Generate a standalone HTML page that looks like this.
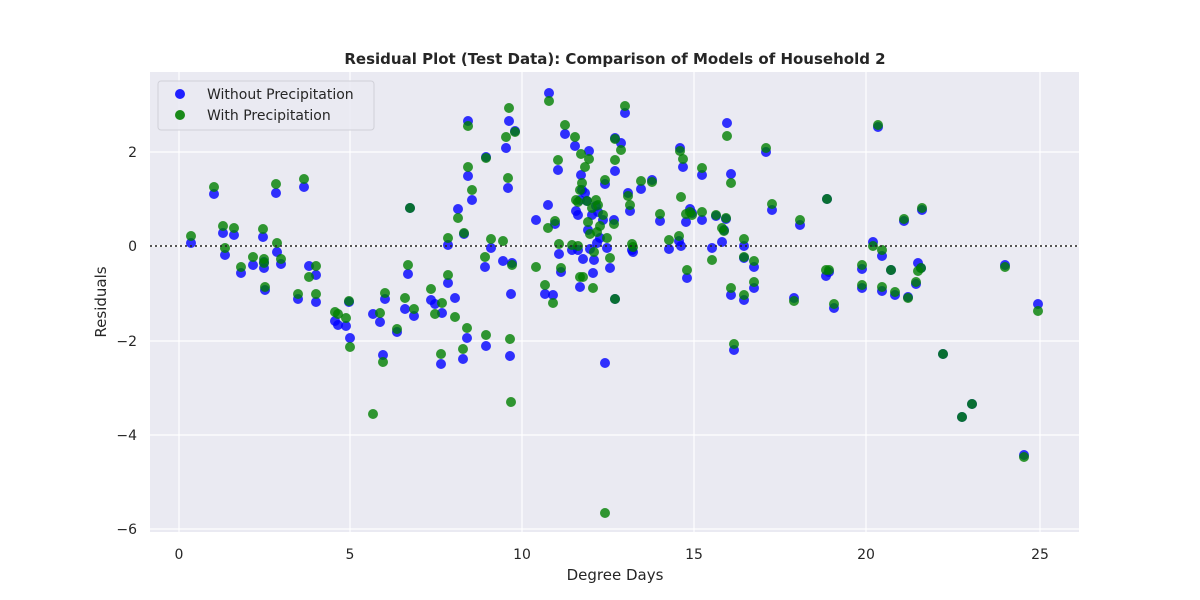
<!DOCTYPE html>
<html><head><meta charset="utf-8"><style>
body{margin:0;background:#fff;}
svg{display:block;font-family:"DejaVu Sans","Liberation Sans",sans-serif;}
</style></head><body>
<svg id="s" width="1200" height="600" xmlns="http://www.w3.org/2000/svg">
<rect x="150" y="72" width="929" height="460" fill="#eaeaf2"/>
<g stroke="#fff" stroke-width="1.2">
<line x1="179" y1="72" x2="179" y2="532"/><line x1="350" y1="72" x2="350" y2="532"/><line x1="522" y1="72" x2="522" y2="532"/><line x1="694" y1="72" x2="694" y2="532"/><line x1="866" y1="72" x2="866" y2="532"/><line x1="1040" y1="72" x2="1040" y2="532"/>
<line x1="150" y1="152" x2="1079" y2="152"/><line x1="150" y1="246" x2="1079" y2="246"/><line x1="150" y1="341" x2="1079" y2="341"/><line x1="150" y1="435" x2="1079" y2="435"/><line x1="150" y1="529" x2="1079" y2="529"/>
</g>
<g font-size="14" fill="#262626" text-anchor="middle">
<text x="179" y="559">0</text><text x="350" y="559">5</text><text x="522" y="559">10</text><text x="694" y="559">15</text><text x="866" y="559">20</text><text x="1040" y="559">25</text>
</g>
<g font-size="14" fill="#262626" text-anchor="end">
<text x="137" y="157">2</text><text x="137" y="251">0</text><text x="137" y="346">−2</text><text x="137" y="440">−4</text><text x="137" y="534">−6</text>
</g>
<text x="615" y="580" font-size="15" fill="#262626" text-anchor="middle">Degree Days</text>
<text transform="translate(106,302) rotate(-90)" font-size="15" fill="#262626" text-anchor="middle">Residuals</text>
<text x="615" y="64" font-size="15" font-weight="bold" fill="#262626" text-anchor="middle">Residual Plot (Test Data): Comparison of Models of Household 2</text>
<g id="pts"></g>
<line x1="150" y1="246" x2="1079" y2="246" stroke="#222" stroke-width="1.5" stroke-dasharray="2,3"/>
<rect x="158" y="81" width="216" height="49" rx="3" fill="#eaeaf2" fill-opacity="0.85" stroke="#d0d0d8"/>
<circle cx="180" cy="94" r="5" fill="#2020ff"/>
<circle cx="180" cy="115" r="5" fill="#1a8a1a"/>
<text x="207" y="99" font-size="14" fill="#262626">Without Precipitation</text>
<text x="207" y="120" font-size="14" fill="#262626">With Precipitation</text>
</svg>
<script>
var d=[[191,243,236],[214,194,187],[223,233,226],[225,255,248],[234,235,228],[241,273,267],[253,265,257],[263,237,229],[264,268,259],[265,290,287],[264,262,263],[276,193,184],[277,252,243],[281,264,259],[304,187,179],[309,266,277],[316,302,294],[316,275,266],[298,299,294],[335,321,312],[338,325,314],[346,326,318],[350,338,347],[349,302,301],[373,314,414],[380,322,313],[383,355,362],[385,299,293],[397,332,329],[405,309,298],[408,274,265],[410,208,208],[414,316,309],[431,300,289],[435,304,314],[441,364,354],[442,313,303],[448,245,238],[448,283,275],[455,298,317],[458,209,218],[463,359,349],[464,234,233],[467,338,328],[468,176,167],[468,121,126],[472,200,190],[485,267,257],[486,346,335],[486,157,158],[491,248,239],[503,261,241],[506,148,137],[508,188,178],[509,121,108],[510,356,339],[511,294,402],[512,263,265],[515,131,132],[536,220,267],[545,294,285],[548,205,228],[549,93,101],[553,295,303],[555,224,221],[558,170,160],[559,254,244],[561,272,268],[565,134,125],[575,146,137],[576,211,200],[578,250,246],[580,287,277],[581,175,154],[582,190,183],[583,259,277],[585,193,167],[587,201,201],[589,151,159],[590,249,234],[593,273,288],[596,206,200],[597,243,232],[600,238,226],[605,184,180],[605,363,513],[607,248,238],[610,268,258],[614,220,224],[615,299,299],[615,171,160],[615,138,139],[621,143,150],[625,113,106],[628,193,196],[630,211,205],[632,250,244],[633,252,247],[641,189,181],[652,180,182],[660,221,214],[669,249,240],[679,241,236],[680,148,151],[681,246,197],[683,167,159],[686,222,214],[687,278,270],[690,209,212],[692,213,215],[702,175,168],[702,220,212],[712,248,260],[716,216,215],[722,242,228],[724,230,231],[726,219,218],[727,123,136],[731,174,183],[731,295,288],[734,350,344],[744,300,295],[744,246,239],[744,258,257],[754,288,282],[754,267,261],[772,210,204],[766,152,148],[794,298,301],[800,225,220],[826,276,270],[827,199,199],[829,272,270],[834,308,304],[862,269,265],[862,288,285],[873,242,246],[878,127,125],[882,256,250],[882,291,287],[891,270,270],[895,295,292],[904,221,219],[908,297,298],[916,284,282],[918,263,271],[921,268,268],[922,210,208],[943,354,354],[962,417,417],[972,404,404],[1005,265,267],[1024,455,457],[1038,304,311],[580,200,190],[588,230,222],[592,215,208],[598,212,205],[603,220,215],[578,215,202],[572,250,245],[594,260,252]];
var g=document.getElementById('pts'),h='';
d.forEach(function(p){h+='<circle cx="'+p[0]+'" cy="'+p[1]+'" r="5" fill="#0000ff" fill-opacity="0.8"/>';});
d.forEach(function(p){h+='<circle cx="'+p[0]+'" cy="'+p[2]+'" r="5" fill="#008000" fill-opacity="0.8"/>';});
g.innerHTML=h;
</script>
</body></html>
